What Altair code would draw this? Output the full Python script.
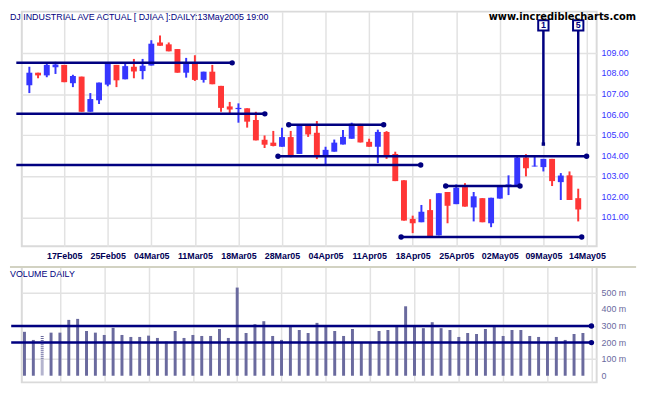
import altair as alt
import pandas as pd

# ---------------- data ----------------
dates = ["11Feb05", "14Feb05", "15Feb05", "16Feb05", "17Feb05", "18Feb05", "22Feb05", "23Feb05",
         "24Feb05", "25Feb05", "28Feb05", "01Mar05", "02Mar05", "03Mar05", "04Mar05", "07Mar05",
         "08Mar05", "09Mar05", "10Mar05", "11Mar05", "14Mar05", "15Mar05", "16Mar05", "17Mar05",
         "18Mar05", "21Mar05", "22Mar05", "23Mar05", "24Mar05", "28Mar05", "29Mar05", "30Mar05",
         "31Mar05", "01Apr05", "04Apr05", "05Apr05", "06Apr05", "07Apr05", "08Apr05", "11Apr05",
         "12Apr05", "13Apr05", "14Apr05", "15Apr05", "18Apr05", "19Apr05", "20Apr05", "21Apr05",
         "22Apr05", "25Apr05", "26Apr05", "27Apr05", "28Apr05", "29Apr05", "02May05", "03May05",
         "04May05", "05May05", "06May05", "09May05", "10May05", "11May05", "12May05", "13May05"]

opens = [107.43, 108.04, 107.91, 108.31, 108.42, 107.53, 107.85, 106.14, 106.70, 107.46,
         108.42, 107.72, 108.33, 108.12, 108.39, 109.51, 109.42, 109.19, 108.04, 108.52,
         107.69, 108.09, 107.40, 106.40, 106.27, 106.31, 105.74, 104.78, 104.64, 104.44,
         104.91, 104.09, 105.49, 105.12, 104.01, 104.20, 104.55, 104.83, 105.55, 104.68,
         104.44, 105.16, 104.09, 102.81, 100.93, 100.77, 101.36, 100.13, 102.24, 101.65,
         102.48, 101.49, 101.94, 100.72, 101.92, 102.51, 102.56, 103.92, 103.48, 103.45,
         103.85, 102.72, 103.05, 101.94]
highs = [108.33, 108.04, 108.52, 108.57, 108.42, 107.94, 107.85, 107.05, 107.56, 108.49,
         108.42, 108.52, 108.71, 108.71, 109.62, 109.85, 109.51, 109.19, 108.76, 108.89,
         108.09, 108.42, 107.40, 106.62, 106.55, 106.31, 106.14, 104.99, 105.21, 105.37,
         105.21, 105.49, 105.49, 105.69, 104.44, 104.79, 105.26, 105.61, 105.55, 104.83,
         105.27, 105.20, 104.20, 102.81, 101.09, 101.61, 101.89, 102.18, 102.24, 102.61,
         102.67, 102.24, 101.94, 101.96, 102.57, 103.05, 103.97, 104.08, 104.01, 103.85,
         103.85, 103.16, 103.24, 102.40]
lows = [107.05, 107.77, 107.82, 107.98, 107.58, 107.34, 106.14, 106.14, 106.52, 107.38,
        107.34, 107.72, 107.77, 107.72, 108.39, 109.35, 109.08, 108.04, 107.80, 107.64,
        107.56, 107.48, 106.14, 106.06, 105.61, 105.37, 104.75, 104.38, 104.46, 104.44,
        103.93, 104.09, 104.92, 103.84, 103.57, 104.20, 104.55, 104.83, 104.65, 104.44,
        103.64, 103.85, 102.77, 100.85, 100.24, 100.77, 100.05, 100.13, 100.72, 101.65,
        101.53, 100.81, 100.77, 100.53, 101.92, 102.09, 102.56, 103.00, 103.48, 103.24,
        102.53, 101.85, 101.85, 100.81]
closes = [108.04, 107.91, 108.42, 108.44, 107.58, 107.88, 106.14, 106.76, 107.56, 108.49,
          107.67, 108.36, 108.10, 108.38, 109.45, 109.35, 109.08, 108.04, 108.55, 107.69,
          108.09, 107.48, 106.33, 106.25, 106.33, 105.66, 104.75, 104.54, 104.48, 104.91,
          104.00, 105.49, 105.04, 104.00, 104.29, 104.64, 104.92, 105.56, 104.65, 104.44,
          105.16, 103.96, 102.77, 100.85, 100.72, 101.28, 100.05, 102.18, 101.57, 102.45,
          101.53, 102.03, 100.77, 101.96, 102.57, 102.61, 103.92, 103.40, 103.52, 103.85,
          102.77, 103.04, 101.85, 101.39]
volumes_m = [265, 216, 240, 260, 260, 337, 343, 270, 260, 246, 289, 246, 234, 234, 242, 228,
             206, 270, 228, 246, 240, 240, 282, 228, 532, 258, 311, 329, 240, 216, 305, 276,
             258, 319, 295, 270, 240, 282, 204, 198, 270, 276, 305, 419, 299, 287, 323, 287,
             276, 234, 258, 252, 282, 305, 240, 276, 276, 240, 234, 204, 234, 216, 252, 258]
volume_dotted = [2]

tick_index = [4, 9, 14, 19, 24, 29, 34, 39, 44, 49, 54, 59, 64]
tick_labels = ["17Feb05", "25Feb05", "04Mar05", "11Mar05", "18Mar05", "28Mar05", "04Apr05",
               "11Apr05", "18Apr05", "25Apr05", "02May05", "09May05", "14May05"]
price_ticks = [101, 102, 103, 104, 105, 106, 107, 108, 109]
volume_ticks = [0, 100, 200, 300, 400, 500]

# trend lines drawn on the price panel
edge_line_levels = [108.52, 106.04, 103.55]
edge_line_ends = [23.28, 27.03, 44.92]
seg_line_levels = [105.51, 103.98, 102.53, 100.05]
seg_line_starts = [29.77, 28.54, 47.79, 42.67]
seg_line_ends = [40.67, 63.96, 56.32, 63.40]

volume_line_levels = [300, 200]
volume_line_end = 63.96

marker_index = [59, 63]
marker_labels = ["1", "5"]
marker_low = 104.57
marker_high = 110.34

title_text = "DJ INDUSTRIAL AVE ACTUAL  [ DJIAA ]:DAILY:13May2005 19:00"
site_text = "www.incrediblecharts.com"
volume_title = "VOLUME DAILY"

# ---------------- layout / style ----------------
NAVY = "#000080"
BLUE = "#3636ff"
RED = "#ff3636"
VOLC = "#6a6a9e"
PW = 583
PH = 238
VH = 117
XMIN, XMAX = -0.3, 64.55
LEFT = XMIN - 10.75 * (XMAX - XMIN) / PW

xscale = alt.Scale(domain=[XMIN, XMAX], nice=False, zero=False)
yscale = alt.Scale(domain=[99.60, 111.01], nice=False, zero=False)
vscale = alt.Scale(domain=[-40, 656], nice=False, zero=False)

label_arr = "[" + ",".join("'%s'" % s for s in tick_labels) + "]"
x_axis_price = alt.Axis(values=tick_index, labelExpr=label_arr + "[(datum.value-4)/5]",
                        title=None, grid=True, ticks=False, tickSize=0, domain=False,
                        labelFont="Liberation Sans", labelFontSize=9, labelFontWeight="bold",
                        labelColor="#000055", labelPadding=5, labelAngle=0,
                        labelOverlap=False, labelBound=False, labelFlush=False)
x_axis_vol = alt.Axis(values=tick_index, labels=False, title=None, grid=True, ticks=False,
                      tickSize=0, domain=False)
y_axis_price = alt.Axis(orient="right", values=price_ticks, title=None, grid=True, labels=False,
                        ticks=False, tickSize=0, domain=False)
y_axis_vol = alt.Axis(orient="right", values=volume_ticks[1:], title=None, grid=True, labels=False,
                      ticks=False, tickSize=0, domain=False)

candles = pd.DataFrame({"i": range(len(opens)), "date": dates, "open": opens, "high": highs,
                        "low": lows, "close": closes})
candles["dir"] = ["up" if c >= o else "down" for o, c in zip(opens, closes)]
color = alt.Color("dir:N", scale=alt.Scale(domain=["up", "down"], range=[BLUE, RED]), legend=None)

base = alt.Chart(candles)
wicks = base.mark_rule(strokeWidth=2).encode(
    x=alt.X("i:Q", scale=xscale, axis=x_axis_price),
    y=alt.Y("low:Q", scale=yscale, axis=y_axis_price),
    y2="high:Q", color=color)
bodies = base.mark_bar(size=6).encode(x="i:Q", y="open:Q", y2="close:Q", color=color)

plabels = alt.Chart(pd.DataFrame({"v": price_ticks})).mark_text(
    align="left", baseline="middle", dx=5, font="Liberation Sans", fontSize=9, color=BLUE).encode(
    x=alt.value(PW), y="v:Q", text=alt.Text("v:Q", format=".2f"))

edge_df = pd.DataFrame({"level": edge_line_levels, "end": edge_line_ends, "start": LEFT})
seg_df = pd.DataFrame({"level": seg_line_levels, "start": seg_line_starts, "end": seg_line_ends})
lines_df = pd.concat([edge_df, seg_df], ignore_index=True)
lines = alt.Chart(lines_df).mark_rule(color=NAVY, strokeWidth=2.5).encode(
    x="start:Q", x2="end:Q", y="level:Q")
dots_df = pd.DataFrame({"x": edge_line_ends + seg_line_starts + seg_line_ends,
                        "y": edge_line_levels + seg_line_levels + seg_line_levels})
dots = alt.Chart(dots_df).mark_circle(color=NAVY, opacity=1, size=30).encode(x="x:Q", y="y:Q")

mk_df = pd.DataFrame({"i": marker_index, "label": marker_labels, "low": marker_low, "high": marker_high})
mk_lines = alt.Chart(mk_df).mark_rule(color=NAVY, strokeWidth=2.5).encode(x="i:Q", y="low:Q", y2="high:Q")
mk_ends = alt.Chart(mk_df).mark_square(color=NAVY, opacity=1, size=12).encode(x="i:Q", y="low:Q")
mk_box = alt.Chart(mk_df).mark_square(fill="white", stroke=NAVY, strokeWidth=2, opacity=1,
                                      size=110).encode(x="i:Q", y="high:Q")
mk_txt = alt.Chart(mk_df).mark_text(color=NAVY, font="Liberation Sans", fontSize=9,
                                    fontWeight="bold", baseline="middle").encode(
    x="i:Q", y="high:Q", text="label:N")

ttl = alt.Chart(pd.DataFrame({"t": [title_text]})).mark_text(
    align="left", baseline="top", font="Liberation Sans", fontSize=9, color=NAVY).encode(
    x=alt.value(-12), y=alt.value(1), text="t:N")
site = alt.Chart(pd.DataFrame({"t": [site_text]})).mark_text(
    align="right", baseline="top", font="DejaVu Sans", fontSize=10, fontWeight="bold",
    color="black").encode(x=alt.value(623), y=alt.value(0), text="t:N")

price = alt.layer(wicks, bodies, plabels, lines, dots, mk_lines, mk_ends, mk_box, mk_txt, ttl, site
                  ).properties(width=PW, height=PH)

# ---------------- volume panel ----------------
vol_df = pd.DataFrame({"i": range(len(volumes_m)), "vol": volumes_m})
vol_df["dotted"] = vol_df["i"].isin(volume_dotted)
vbase = alt.Chart(vol_df)
vbars = vbase.transform_filter("!datum.dotted").mark_rule(color=VOLC, strokeWidth=3).encode(
    x=alt.X("i:Q", scale=xscale, axis=x_axis_vol),
    y=alt.Y("vol:Q", scale=vscale, axis=y_axis_vol),
    y2=alt.datum(0))
vbars_dot = vbase.transform_filter("datum.dotted").mark_rule(
    color=VOLC, strokeWidth=3, strokeDash=[1, 1]).encode(x="i:Q", y="vol:Q", y2=alt.datum(0))

vlabels = alt.Chart(pd.DataFrame({"v": volume_ticks})).transform_calculate(
    lab="datum.v == 0 ? '0' : datum.v + ' m'").mark_text(
    align="left", baseline="middle", dx=5, font="Liberation Sans", fontSize=9, color=VOLC).encode(
    x=alt.value(PW), y="v:Q", text="lab:N")

vl_df = pd.DataFrame({"level": volume_line_levels, "start": LEFT, "end": volume_line_end})
vlines = alt.Chart(vl_df).mark_rule(color=NAVY, strokeWidth=2.5).encode(
    x="start:Q", x2="end:Q", y="level:Q")
vdots = alt.Chart(vl_df).mark_circle(color=NAVY, opacity=1, size=30).encode(x="end:Q", y="level:Q")

band = alt.Chart(pd.DataFrame({"t": [volume_title]})).mark_rule(
    color="#d2d2c2", strokeWidth=2).encode(x=alt.value(-12), x2=alt.value(623), y=alt.value(0))
vttl = alt.Chart(pd.DataFrame({"t": [volume_title]})).mark_text(
    align="left", baseline="top", font="Liberation Sans", fontSize=9, color=NAVY).encode(
    x=alt.value(-12), y=alt.value(3), text="t:N")

volume = alt.layer(vbars, vbars_dot, vlabels, vlines, vdots, band, vttl).properties(width=PW, height=VH)

chart = alt.vconcat(price, volume, spacing=21, bounds="flush").properties(
    padding={"left": 0, "top": 0, "right": 5, "bottom": 0}
).configure_axis(gridColor="#e2e2e2", gridWidth=1.5).configure_view(
    stroke="#dadada", strokeWidth=2)

chart.save("out.html", embed_options={"renderer": "svg", "actions": False})
